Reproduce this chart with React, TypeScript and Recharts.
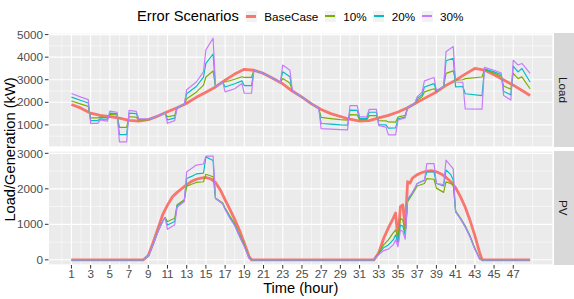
import React from "react";
import { CartesianGrid, Line, LineChart, XAxis, YAxis } from "recharts";

type Pt = [number, number]; // [hour, kW]

// --- Load panel -------------------------------------------------------
const loadBase: Pt[] = [
  [1, 1900], [2, 1740], [3, 1520], [4, 1420], [5, 1370], [6, 1300], [7, 1200], [8, 1170],
  [9, 1230], [10, 1390], [11, 1580], [12, 1760], [13, 1960], [14, 2220], [15, 2450], [16, 2680],
  [17, 2980], [18, 3250], [19, 3460], [20, 3420], [21, 3280], [22, 3050], [23, 2820], [24, 2500],
  [25, 2230], [26, 1930], [27, 1680], [28, 1500], [29, 1370], [30, 1250], [31, 1170], [32, 1190],
  [33, 1310], [34, 1420], [35, 1570], [36, 1760], [37, 2000], [38, 2230], [39, 2460], [40, 2750],
  [41, 2980], [42, 3250], [43, 3500], [44, 3430], [45, 3220], [46, 2990], [47, 2760], [48, 2500],
  [48.75, 2300],
];

const load10: Pt[] = [
  [1, 2060], [2, 1920], [2.75, 1820], [3, 1310], [3.75, 1310], [4, 1340], [4.75, 1320],
  [5, 1460], [5.75, 1440], [6, 890], [6.75, 890], [7, 1360], [7.75, 1340], [8, 1215], [8.75, 1215],
  [9, 1232], [10, 1392], [10.75, 1535], [11, 1360], [11.75, 1420], [12, 1762], [12.75, 1905],
  [13, 2160], [14, 2450], [14.75, 2760], [15, 3120], [15.75, 3390], [16, 2680], [16.75, 2900],
  [17, 2900], [18, 3020], [18.75, 3130], [19, 3100], [19.75, 3100], [20, 3420], [21, 3280],
  [21.75, 3110], [22.75, 2880], [23, 3050], [23.75, 2850], [24, 2500], [25, 2230], [26, 1930],
  [26.75, 1740], [27, 1330], [28, 1280], [29, 1230], [29.75, 1210], [30, 1450], [30.75, 1440],
  [31, 1230], [31.75, 1230], [32, 1410], [32.75, 1410], [33, 1190], [33.75, 1180], [34, 1130],
  [34.75, 1120], [35, 1350], [35.75, 1420], [36, 1770], [36.75, 1950], [37, 2100], [37.5, 2250],
  [37.75, 2460], [38.75, 2600], [39, 2480], [39.75, 2690], [40, 3280], [40.75, 3390], [41, 2980],
  [41.75, 3000], [42, 3050], [43.75, 3120], [44, 3450], [45, 3300], [45.75, 3150], [46, 2720],
  [46.75, 2580], [47, 3280], [47.5, 3050], [47.9, 3130], [48.75, 2600],
];

const load20: Pt[] = [
  [1, 2230], [2, 2080], [2.75, 1970], [3, 1190], [3.75, 1190], [4, 1270], [4.75, 1250],
  [5, 1520], [5.75, 1500], [6, 570], [6.75, 570], [7, 1520], [7.75, 1500], [8, 1240], [8.75, 1240],
  [9, 1235], [10, 1395], [10.75, 1540], [11, 1220], [11.75, 1300], [12, 1765], [12.75, 1905],
  [13, 2380], [14, 2700], [14.75, 3120], [15, 3720], [15.75, 4140], [16, 2680], [16.75, 2900],
  [17, 2680], [18, 2820], [18.75, 2950], [19, 2740], [19.75, 2740], [20, 3420], [21, 3280],
  [21.75, 3110], [22.75, 2880], [23, 3350], [23.75, 3130], [24, 2500], [25, 2230], [26, 1930],
  [26.75, 1740], [27, 1060], [28, 1030], [29, 1000], [29.75, 985], [30, 1650], [30.75, 1640],
  [31, 1290], [31.75, 1290], [32, 1560], [32.75, 1560], [33, 1010], [33.75, 1000], [34, 860],
  [34.75, 865], [35, 1270], [35.75, 1340], [36, 1770], [36.75, 1950], [37, 2180], [37.5, 2330],
  [37.75, 2680], [38.75, 2830], [39, 2500], [39.75, 2700], [40, 3840], [40.75, 3950], [41, 2680],
  [41.75, 2700], [42, 2380], [43.75, 2300], [44, 3480], [45, 3350], [45.75, 3230], [46, 2480],
  [46.75, 2330], [47, 3600], [47.5, 3350], [47.9, 3500], [48.75, 2900],
];

const load30: Pt[] = [
  [1, 2390], [2, 2230], [2.75, 2120], [3, 1070], [3.75, 1070], [4, 1220], [4.75, 1170],
  [5, 1610], [5.75, 1560], [6, 250], [6.75, 250], [7, 1640], [7.75, 1600], [8, 1270], [8.75, 1270],
  [9, 1240], [10, 1400], [10.75, 1540], [11, 1070], [11.75, 1190], [12, 1770], [12.75, 1900],
  [13, 2560], [14, 2900], [14.75, 3350], [15, 4320], [15.75, 4840], [16, 2680], [16.75, 2900],
  [17, 2460], [18, 2600], [18.75, 2830], [19, 2400], [19.75, 2400], [20, 3420], [21, 3280],
  [21.75, 3110], [22.75, 2880], [23, 3650], [23.75, 3420], [24, 2500], [25, 2230], [26, 1930],
  [26.75, 1740], [27, 830], [28, 810], [29, 790], [29.75, 780], [30, 1850], [30.75, 1850],
  [31, 1360], [31.75, 1360], [32, 1690], [32.75, 1690], [33, 970], [33.75, 900], [34, 560],
  [34.75, 560], [35, 1220], [35.75, 1310], [36, 1770], [36.75, 1950], [37, 2250], [37.5, 2450],
  [37.75, 2950], [38.75, 3100], [39, 2530], [39.75, 2680], [40, 4240], [40.75, 4470], [41, 2900],
  [41.75, 2880], [42, 1710], [43.75, 1700], [44, 3550], [45, 3420], [45.75, 3300], [46, 2300],
  [46.75, 2100], [47, 3870], [47.5, 3650], [47.9, 3720], [48.75, 3280],
];

// --- PV panel ---------------------------------------------------------
const pvBase: Pt[] = [
  [1, 0], [8.5, 0], [9, 120], [9.5, 480], [10, 880], [10.5, 1270], [11, 1540], [11.5, 1770],
  [12, 1900], [12.5, 2010], [13, 2120], [13.5, 2210], [14, 2270], [14.5, 2300], [15, 2320],
  [15.5, 2280], [16, 2180], [16.5, 1970], [17, 1690], [17.5, 1420], [18, 1140], [18.5, 830],
  [19, 470], [19.5, 90], [19.75, 0], [32.5, 0], [33, 200], [33.5, 600], [34, 900], [34.5, 1170],
  [34.75, 1320], [35, 550], [35.25, 1500], [35.5, 1550], [35.75, 900], [36, 2200], [36.25, 2160],
  [36.5, 2300], [37, 2400], [37.5, 2460], [38, 2500], [38.5, 2510], [39, 2480], [39.5, 2420],
  [40, 2320], [40.5, 2200], [41, 2030], [41.5, 1780], [42, 1480], [42.5, 1110], [43, 680],
  [43.5, 200], [43.75, 0], [48.75, 0],
];

const pv10: Pt[] = [
  [1, 0], [8.5, 0], [9, 110], [9.5, 430], [10, 790], [10.5, 1090], [10.75, 1190], [11, 1080],
  [11.75, 1170], [12, 1550], [12.75, 1690], [13, 2070], [13.5, 2130], [14, 2180], [14.75, 2200],
  [15, 2410], [15.75, 2340], [16, 1740], [16.75, 1600], [17, 1460], [17.5, 1230], [18, 1020],
  [18.5, 710], [19, 420], [19.5, 60], [19.75, 0], [32.5, 0], [33, 190], [33.5, 420], [34, 560],
  [34.5, 760], [34.75, 840], [35, 650], [35.25, 1170], [35.5, 1120], [35.75, 800], [36, 1640],
  [36.5, 1850], [37, 2080], [37.75, 2150], [38, 2290], [38.75, 2270], [39, 2020], [39.75, 1900],
  [40, 2200], [40.75, 2120], [41, 1380], [41.5, 1180], [42, 960], [42.5, 680], [43, 330],
  [43.5, 30], [43.75, 0], [48.75, 0],
];

const pv20: Pt[] = [
  [1, 0], [8.5, 0], [9, 110], [9.5, 430], [10, 790], [10.5, 1090], [10.75, 1190], [11, 980],
  [11.75, 1080], [12, 1520], [12.75, 1660], [13, 2290], [13.5, 2350], [14, 2420], [14.75, 2440],
  [15, 2900], [15.75, 2800], [16, 1730], [16.75, 1580], [17, 1430], [17.5, 1190], [18, 980],
  [18.5, 670], [19, 390], [19.5, 50], [19.75, 0], [32.5, 0], [33, 170], [33.5, 340], [34, 420],
  [34.5, 560], [34.75, 700], [35, 480], [35.25, 980], [35.5, 950], [35.75, 700], [36, 1690],
  [36.5, 1880], [37, 2150], [37.75, 2250], [38, 2480], [38.75, 2480], [39, 2150], [39.75, 2080],
  [40, 2530], [40.5, 2400], [40.75, 2250], [41, 1350], [41.5, 1160], [42, 930], [42.5, 650],
  [43, 310], [43.5, 25], [43.75, 0], [48.75, 0],
];

const pv30: Pt[] = [
  [1, 0], [8.5, 0], [9, 110], [9.5, 430], [10, 790], [10.5, 1090], [10.75, 1190], [11, 860],
  [11.75, 990], [12, 1480], [12.75, 1640], [13, 2480], [13.5, 2570], [14, 2670], [14.75, 2700],
  [15, 2920], [15.75, 2920], [16, 1730], [16.75, 1580], [17, 1420], [17.5, 1170], [18, 960],
  [18.5, 650], [19, 370], [19.5, 40], [19.75, 0], [32.5, 0], [33, 150], [33.5, 260], [34, 300],
  [34.5, 420], [34.75, 560], [35, 370], [35.25, 840], [35.5, 800], [35.75, 580], [36, 1720],
  [36.5, 1900], [37, 2150], [37.75, 2230], [38, 2710], [38.75, 2710], [39, 2150], [39.75, 2120],
  [40, 2810], [40.75, 2560], [41, 1350], [41.5, 1150], [42, 920], [42.5, 640], [43, 300],
  [43.5, 20], [43.75, 0], [48.75, 0],
];

const SCENARIOS = ["BaseCase", "10%", "20%", "30%"];
const COLORS = ["#F8766D", "#7CAE00", "#00BFC4", "#C77CFF"];
const LINE_W = [2.8, 1.2, 1.2, 1.2];

const X_MAJOR = [1, 3, 5, 7, 9, 11, 13, 15, 17, 19, 21, 23, 25, 27, 29, 31, 33, 35, 37, 39, 41, 43, 45, 47];
const X_MINOR = [-1, 0, 2, 4, 6, 8, 10, 12, 14, 16, 18, 20, 22, 24, 26, 28, 30, 32, 34, 36, 38, 40, 42, 44, 46, 48, 49];
const LOAD_TICKS = [1000, 2000, 3000, 4000, 5000];
const LOAD_MINOR = [500, 1500, 2500, 3500, 4500];
const PV_TICKS = [0, 1000, 2000, 3000];
const PV_MINOR = [500, 1500, 2500];

const X_DOMAIN: [number, number] = [-1.3875, 51.1375];
const LOAD_DOMAIN: [number, number] = [20, 5070];
const PV_DOMAIN: [number, number] = [-146, 3066];

const FONT = "'Liberation Sans', Arial, Helvetica, sans-serif";
const axisText = { fontSize: 11.7, fill: "#4D4D4D", fontFamily: FONT };

const toRows = (pts: Pt[]) => pts.map(([h, v]) => ({ h, v }));

interface PanelProps {
  series: Pt[][];
  domain: [number, number];
  yTicks: number[];
  yMinor: number[];
  showX: boolean;
  height: number;
  marginTop: number;
  marginBottom: number;
}

function Panel({ series, domain, yTicks, yMinor, showX, height, marginTop, marginBottom }: PanelProps) {
  return (
    <LineChart
      width={553}
      height={height}
      margin={{ top: marginTop, right: 0, bottom: marginBottom, left: 0 }}
    >
      <XAxis xAxisId="xm" type="number" dataKey="h" domain={X_DOMAIN} ticks={X_MINOR} allowDataOverflow hide />
      <YAxis yAxisId="ym" type="number" domain={domain} ticks={yMinor} allowDataOverflow hide />
      <XAxis
        xAxisId="x"
        type="number"
        dataKey="h"
        domain={X_DOMAIN}
        ticks={X_MAJOR}
        interval={0}
        allowDataOverflow
        hide={!showX}
        height={16}
        axisLine={false}
        tickSize={3.6}
        tickMargin={0.8}
        tickLine={{ stroke: "#333333" }}
        tick={axisText}
      />
      <YAxis
        yAxisId="y"
        type="number"
        domain={domain}
        ticks={yTicks}
        interval={0}
        allowDataOverflow
        width={48.5}
        axisLine={false}
        tickSize={3.6}
        tickMargin={2}
        tickLine={{ stroke: "#333333" }}
        tick={axisText}
      />
      <CartesianGrid xAxisId="xm" yAxisId="ym" stroke="#FFFFFF" strokeWidth={0.55} fill="#EBEBEB" fillOpacity={1} />
      <CartesianGrid xAxisId="x" yAxisId="y" stroke="#FFFFFF" strokeWidth={1.1} />
      {series.map((pts, i) => (
        <Line
          key={SCENARIOS[i]}
          name={SCENARIOS[i]}
          xAxisId="x"
          yAxisId="y"
          data={toRows(pts)}
          dataKey="v"
          type="linear"
          stroke={COLORS[i]}
          strokeWidth={LINE_W[i]}
          strokeLinejoin="round"
          dot={false}
          activeDot={false}
          isAnimationActive={false}
        />
      ))}
    </LineChart>
  );
}

function Strip({ top, height, label }: { top: number; height: number; label: string }) {
  return (
    <div
      style={{
        position: "absolute",
        left: 553.5,
        top,
        width: 20.5,
        height,
        background: "#D9D9D9",
        display: "flex",
        alignItems: "center",
        justifyContent: "center",
      }}
    >
      <span style={{ writingMode: "vertical-rl", fontSize: 11.7, color: "#1A1A1A" }}>{label}</span>
    </div>
  );
}

function LegendKey({ color, width }: { color: string; width: number }) {
  return (
    <span
      style={{
        width: 11,
        height: 11,
        background: "#F2F2F2",
        display: "flex",
        alignItems: "center",
        justifyContent: "center",
        marginRight: 7.5,
      }}
    >
      <span style={{ width: 10, height: width, background: color }} />
    </span>
  );
}

export default function App() {
  return (
    <div
      style={{
        position: "absolute",
        left: 0,
        top: 0,
        width: 574,
        height: 299,
        background: "#FFFFFF",
        fontFamily: FONT,
        overflow: "hidden",
      }}
    >
      {/* legend */}
      <div
        style={{
          position: "absolute",
          left: 137,
          top: 0,
          height: 32,
          display: "flex",
          alignItems: "center",
          whiteSpace: "nowrap",
        }}
      >
        <span style={{ fontSize: 14.67, color: "#000", marginRight: 7 }}>Error Scenarios</span>
        {SCENARIOS.map((s, i) => (
          <span key={s} style={{ display: "flex", alignItems: "center", marginRight: 6.5 }}>
            <LegendKey color={COLORS[i]} width={i === 0 ? 3 : 1.6} />
            <span style={{ fontSize: 11.7, color: "#000" }}>{s}</span>
          </span>
        ))}
      </div>

      <div style={{ position: "absolute", left: 0, top: 0 }}>
        <Panel
          series={[loadBase, load10, load20, load30]}
          domain={LOAD_DOMAIN}
          yTicks={LOAD_TICKS}
          yMinor={LOAD_MINOR}
          showX={false}
          height={147}
          marginTop={33}
          marginBottom={0}
        />
      </div>
      <div style={{ position: "absolute", left: 0, top: 147 }}>
        <Panel
          series={[pvBase, pv10, pv20, pv30]}
          domain={PV_DOMAIN}
          yTicks={PV_TICKS}
          yMinor={PV_MINOR}
          showX={true}
          height={134}
          marginTop={4}
          marginBottom={0}
        />
      </div>

      <Strip top={33} height={114} label="Load" />
      <Strip top={151} height={114} label="PV" />

      {/* axis titles */}
      <div
        style={{
          position: "absolute",
          left: 10 - 150,
          top: 149 - 8.5,
          width: 300,
          height: 17,
          lineHeight: "17px",
          textAlign: "center",
          fontSize: 14.67,
          color: "#000",
          transform: "rotate(-90deg)",
        }}
      >
        Load/Generation (kW)
      </div>
      <div
        style={{
          position: "absolute",
          left: 300.75 - 100,
          top: 281.5,
          width: 200,
          height: 12,
          lineHeight: "12px",
          textAlign: "center",
          fontSize: 14.67,
          color: "#000",
        }}
      >
        Time (hour)
      </div>
    </div>
  );
}
